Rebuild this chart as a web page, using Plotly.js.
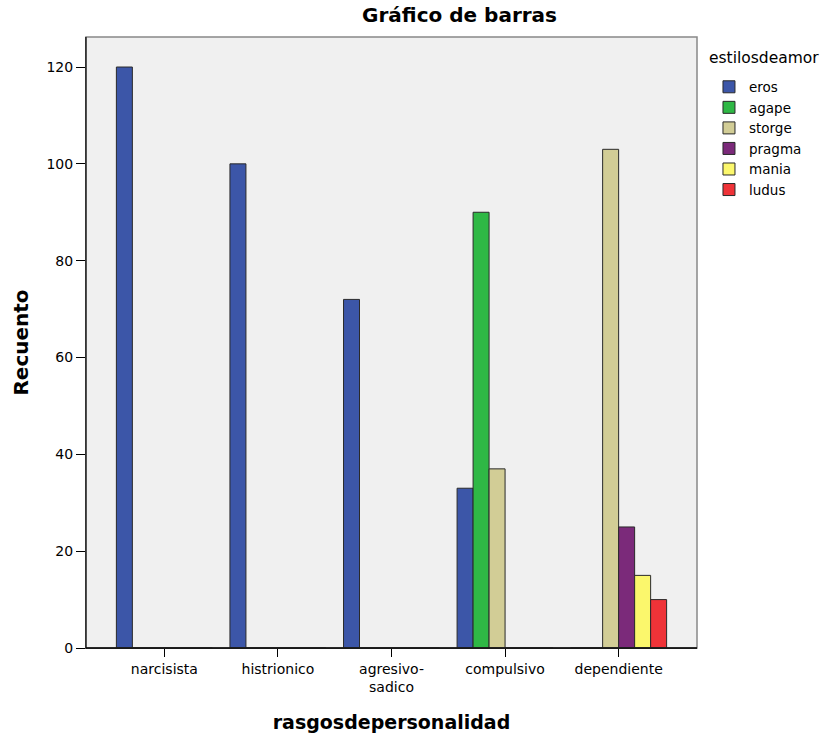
<!DOCTYPE html>
<html>
<head>
<meta charset="utf-8">
<script src="https://cdn.plot.ly/plotly-3.0.1.min.js"></script>
<style>html,body{margin:0;padding:0;background:#fff;}#chart{width:831px;height:733px;}</style>
</head>
<body>
<div id="chart"></div>
<script>
const categories = ["narcisista", "histrionico", "agresivo-<br>sadico", "compulsivo", "dependiente"];
const seriesNames = ["eros", "agape", "storge", "pragma", "mania", "ludus"];
const eros   = [120, 100, 72, 33, 0];
const agape  = [0, 0, 0, 90, 0];
const storge = [0, 0, 0, 37, 103];
const pragma = [0, 0, 0, 0, 25];
const mania  = [0, 0, 0, 0, 15];
const ludus  = [0, 0, 0, 0, 10];
const yTicks = [0, 20, 40, 60, 80, 100, 120];

const seriesValues = [eros, agape, storge, pragma, mania, ludus];
const colors = ["#3c56a8", "#2fb845", "#d2cd96", "#7b2a7a", "#fbf76c", "#ef3338"];
const FONT = "DejaVu Sans, Liberation Sans, Arial, sans-serif";

const traces = seriesNames.map((name, i) => ({
  type: "bar",
  name: name,
  x: categories,
  y: seriesValues[i],
  marker: { color: colors[i], line: { color: "#2a2a2a", width: 1 } },
  hoverinfo: "x+y+name"
}));

const layout = {
  width: 831, height: 733,
  margin: { l: 86, r: 134, t: 37, b: 85 },
  paper_bgcolor: "#ffffff",
  plot_bgcolor: "#f0f0f0",
  font: { family: FONT, size: 14, color: "#000" },
  title: { text: "<b>Gráfico de barras</b>", font: { size: 20, family: FONT, color: "#000" }, xref: "container", x: 0.553, xanchor: "center", yref: "container", y: 0.979, yanchor: "middle" },
  barmode: "group",
  bargap: 0.155,
  bargroupgap: 0,
  showlegend: true,
  legend: {
    x: 1.0196, xanchor: "left", y: 0.9435, yanchor: "top",
    font: { size: 13.5, family: FONT },
    bgcolor: "rgba(0,0,0,0)",
    tracegroupgap: 0
  },
  annotations: [
    { text: "estilosdeamor", xref: "paper", yref: "paper", x: (707 - 86) / 611, xanchor: "left", y: (648 - 58) / 611, yanchor: "middle", showarrow: false, font: { size: 15.5, family: FONT } }
  ],
  xaxis: {
    type: "category",
    range: [-0.69, 4.69],
    showline: true, linecolor: "#000", linewidth: 1, mirror: false,
    ticks: "outside", ticklen: 8, tickcolor: "#000", tickwidth: 1,
    showgrid: false, zeroline: false,
    tickfont: { size: 14 },
    title: { text: "<b>rasgosdepersonalidad</b>", font: { size: 19 }, standoff: 21 }
  },
  yaxis: {
    range: [0, 126.2],
    tickvals: yTicks, ticktext: yTicks.map(String),
    showline: true, linecolor: "#000", linewidth: 1,
    ticks: "outside", ticklen: 9, tickcolor: "#000",
    showgrid: false, zeroline: false,
    tickfont: { size: 14 },
    title: { text: "<b>Recuento</b>", font: { size: 20 }, standoff: 12 }
  },
  shapes: [
    { type: "rect", xref: "paper", yref: "paper", x0: 0, x1: 1, y0: 0, y1: 1, line: { color: "#888", width: 1.5 }, fillcolor: "rgba(0,0,0,0)", layer: "above" },
    { type: "line", xref: "paper", yref: "paper", x0: 0, x1: 0, y0: 0, y1: 1, line: { color: "#000", width: 1 }, layer: "above" },
    { type: "line", xref: "paper", yref: "paper", x0: 0, x1: 1, y0: 0, y1: 0, line: { color: "#000", width: 1.5 }, layer: "above" }
  ]
};

Plotly.newPlot("chart", traces, layout, { displayModeBar: false, responsive: false });
</script>
</body>
</html>
